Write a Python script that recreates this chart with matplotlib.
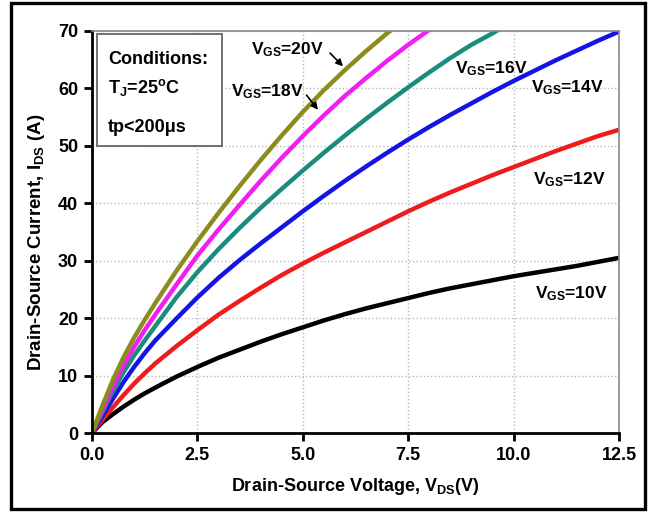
import numpy as np
import matplotlib
matplotlib.use("Agg")
import matplotlib.pyplot as plt
from matplotlib.patches import Rectangle

plt.rcParams['font.family'] = ['Liberation Sans', 'DejaVu Sans']
plt.rcParams['font.weight'] = 'bold'
plt.rcParams['mathtext.fontset'] = 'custom'
plt.rcParams['mathtext.rm'] = 'Liberation Sans:bold'
plt.rcParams['mathtext.it'] = 'Liberation Sans:bold'
plt.rcParams['mathtext.bf'] = 'Liberation Sans:bold'

nan = np.nan

# drain-source voltage (V)
vds = [0, 0.25, 0.5, 0.75, 1, 1.25, 1.5, 2, 2.5, 3, 3.5, 4, 4.5, 5, 5.5, 6, 6.5,
       7, 7.5, 8, 8.5, 9, 9.5, 10, 10.5, 11, 11.5, 12, 12.5]

# drain current (A) for each gate voltage
ids_10v = [0, 1.9, 3.3, 4.6, 5.8, 6.9, 7.9, 9.8, 11.5, 13.1, 14.5, 15.9, 17.2, 18.4, 19.6, 20.7, 21.7,
           22.6, 23.5, 24.4, 25.2, 25.9, 26.6, 27.3, 27.9, 28.5, 29.1, 29.8, 30.5]
ids_12v = [0, 2.3, 4.5, 6.6, 8.6, 10.4, 12.1, 15.1, 17.9, 20.6, 23.0, 25.3, 27.5, 29.5, 31.4, 33.2, 35.0,
           36.8, 38.6, 40.3, 41.9, 43.4, 44.9, 46.3, 47.7, 49.1, 50.4, 51.7, 52.8]
ids_14v = [0, 3.0, 6.0, 8.9, 11.5, 13.9, 16.1, 19.9, 23.6, 27.0, 30.1, 33.0, 35.8, 38.6, 41.3, 43.9, 46.4,
           48.8, 51.1, 53.3, 55.4, 57.4, 59.4, 61.3, 63.1, 64.9, 66.6, 68.3, 69.9]
ids_16v = [0, 3.7, 7.3, 10.6, 13.5, 16.1, 18.6, 23.6, 28.0, 32.0, 35.7, 39.2, 42.5, 45.7, 48.8, 51.8, 54.7,
           57.5, 60.2, 62.8, 65.3, 67.6, 69.6, 71.8, nan, nan, nan, nan, nan]
ids_18v = [0, 4.1, 8.1, 11.8, 15.0, 17.9, 20.6, 25.8, 30.9, 35.4, 39.7, 43.9, 47.9, 51.7, 55.3, 58.7, 61.8,
           64.8, 67.6, 70.2, 72.7, nan, nan, nan, nan, nan, nan, nan, nan]
ids_20v = [0, 4.8, 9.3, 13.2, 16.6, 19.7, 22.6, 28.2, 33.4, 38.3, 43.0, 47.5, 51.8, 55.9, 59.7, 63.2, 66.5,
           69.6, 72.5, nan, nan, nan, nan, nan, nan, nan, nan, nan, nan]

curves = [ids_10v, ids_12v, ids_14v, ids_16v, ids_18v, ids_20v]
colors = ['#000000', '#ee1c1c', '#1414e6', '#1a8c7c', '#f01ef0', '#8c8c1e']

fig = plt.figure(figsize=(6.56, 5.13), dpi=100)
ax = fig.add_axes([0.1402, 0.1559, 0.8034, 0.7837])

# frame around the whole figure
fig.patches.append(Rectangle((11 / 656, 1 - 509 / 513), 634 / 656, 506 / 513,
                             transform=fig.transFigure, fill=False,
                             edgecolor='black', linewidth=2.4))

for ids, c in zip(curves, colors):
    ax.plot(vds, ids, color=c, linewidth=3.2, solid_capstyle='butt')

ax.set_xlim(0, 12.5)
ax.set_ylim(0, 70)
ax.set_xticks([0, 2.5, 5, 7.5, 10, 12.5])
ax.set_xticklabels(['0.0', '2.5', '5.0', '7.5', '10.0', '12.5'])
ax.set_yticks(range(0, 71, 10))
ax.grid(True, linestyle=':', color='#b8b8b8', linewidth=1.0)
ax.set_axisbelow(True)

for s in ['left', 'bottom']:
    ax.spines[s].set_linewidth(2.0)
    ax.spines[s].set_color('black')
for s in ['top', 'right']:
    ax.spines[s].set_linewidth(1.2)
    ax.spines[s].set_color('#888888')

ax.tick_params(axis='both', direction='out', length=6, width=2, labelsize=13, pad=4)
for lab in ax.get_xticklabels() + ax.get_yticklabels():
    lab.set_fontweight('bold')

ax.set_xlabel('Drain-Source Voltage, V$_{DS}$(V)', fontsize=13, fontweight='bold', labelpad=9)
ax.set_ylabel('Drain-Source Current, I$_{DS}$ (A)', fontsize=13.5, fontweight='bold', labelpad=6)
ax.yaxis.set_label_coords(-0.085, 0.475)

# conditions box
ax.add_patch(Rectangle((0.12, 50.0), 2.96, 19.5, facecolor='white', edgecolor='#666666',
                       linewidth=1.3, zorder=3))
cond_kw = dict(fontsize=13, fontweight='bold', va='center', ha='left', zorder=4)
ax.text(0.38, 65.0, 'Conditions:', **cond_kw)
ax.text(0.38, 60.2, 'T$_J$=25$^o$C', **cond_kw)
ax.text(0.38, 53.2, 'tp<200\u03bcs', **cond_kw)

# gate voltage labels
lab_kw = dict(fontsize=12.5, fontweight='bold')
ax.text(3.78, 66.0, 'V$_{GS}$=20V', **lab_kw)
ax.text(3.3, 58.7, 'V$_{GS}$=18V', **lab_kw)
ax.text(8.6, 62.7, 'V$_{GS}$=16V', **lab_kw)
ax.text(10.42, 59.3, 'V$_{GS}$=14V', **lab_kw)
ax.text(10.45, 43.3, 'V$_{GS}$=12V', **lab_kw)
ax.text(10.5, 23.5, 'V$_{GS}$=10V', **lab_kw)

arrow = dict(arrowstyle='-|>', color='black', linewidth=1.2, mutation_scale=10)
ax.annotate('', xy=(6.0, 63.5), xytext=(5.6, 66.5), arrowprops=arrow)
ax.annotate('', xy=(5.4, 55.9), xytext=(5.05, 59.2), arrowprops=arrow)

fig.savefig('out.png', dpi=100)
